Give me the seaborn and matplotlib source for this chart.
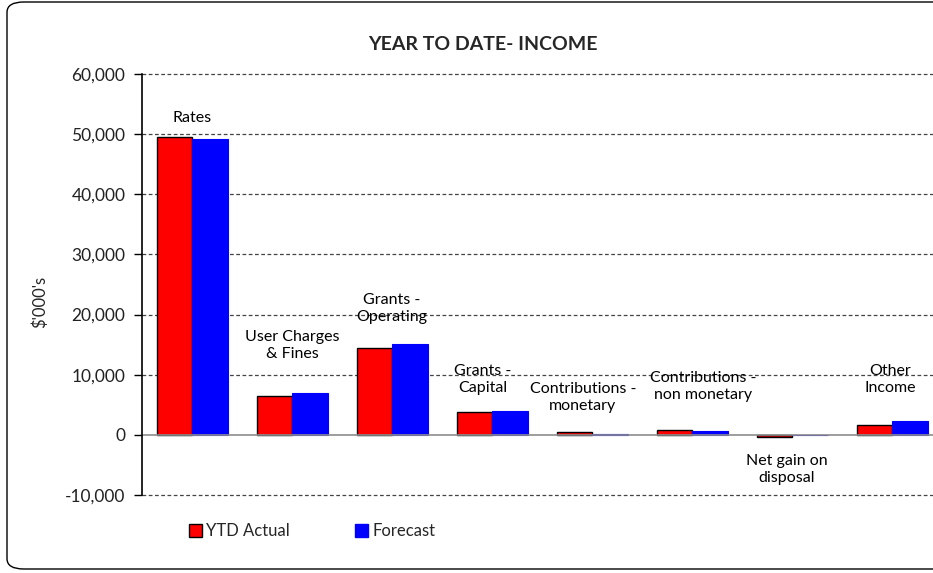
import matplotlib
matplotlib.use("Agg")
import matplotlib.pyplot as plt
from matplotlib.patches import FancyBboxPatch, Patch
import pandas as pd
import seaborn as sns

categories = ["Rates", "User Charges\n& Fines", "Grants -\nOperating", "Grants -\nCapital",
              "Contributions -\nmonetary", "Contributions -\nnon monetary",
              "Net gain on\ndisposal", "Other\nIncome"]
ytd_actual = [49450, 6400, 14450, 3750, 450, 830, -330, 1660]
forecast = [49270, 7000, 15100, 4000, 200, 660, -100, 2300]
series_names = ["YTD Actual", "Forecast"]
y_ticks = [-10000, 0, 10000, 20000, 30000, 40000, 50000, 60000]

# category label anchor points (x offset from group centre, y in $'000)
label_dx = [0.0, 0.0, 0.0, -0.09, -0.09, 0.11, -0.05, -0.02]
label_y = [52700, 14850, 21000, 9200, 6200, 8000, -5800, 9200]

df = pd.DataFrame({
    "category": categories * 2,
    "series": [series_names[0]] * len(categories) + [series_names[1]] * len(categories),
    "value": ytd_actual + forecast,
})

sns.set_theme(style="white")
plt.rcParams["font.family"] = ["Lato", "DejaVu Sans"]

W, H = 933, 573
fig = plt.figure(figsize=(W / 100, H / 100), dpi=100)

# rounded chart-area frame
frame = FancyBboxPatch((7 / W, 4 / H), 945 / W, 567 / H,
                       boxstyle="round,pad=0,rounding_size=0.018",
                       transform=fig.transFigure, facecolor="none",
                       edgecolor="black", linewidth=1.0, clip_on=False)
fig.patches.append(frame)

ax = fig.add_axes([142 / W, 1 - 495 / H, 800 / W, (495 - 74) / H])
sns.barplot(data=df, x="category", y="value", hue="series", order=categories,
            hue_order=series_names, palette=["#FF0000", "#0000FF"],
            width=0.71, dodge=True, gap=0, ax=ax, legend=False,
            saturation=1, linewidth=0)

for bar in ax.containers[0]:
    bar.set_edgecolor("black")
    bar.set_linewidth(1.0)
for bar in ax.containers[1]:
    bar.set_edgecolor("#0000FF")
    bar.set_linewidth(0.8)

ax.set_xlim(-0.5, len(categories) - 0.5)
ax.set_ylim(-10000, 60000)
ax.set_yticks(y_ticks)
ax.set_yticklabels([f"{v:,}" for v in y_ticks], fontsize=12.5)
ax.set_xticks([])
ax.set_xlabel("")
ax.set_ylabel("")

for v in y_ticks:
    if v != 0:
        ax.axhline(v, color="#444444", linestyle=(0, (3, 2)), linewidth=0.9,
                   zorder=0, clip_on=False)
ax.axhline(0, color="#8c8c8c", linewidth=1.2, zorder=3)

for s in ["top", "right", "bottom"]:
    ax.spines[s].set_visible(False)
ax.spines["left"].set_color("black")
ax.spines["left"].set_linewidth(1.2)
ax.spines["left"].set_zorder(4)
ax.tick_params(axis="y", which="major", direction="out", length=6, width=1,
               color="black", left=True, pad=6, labelcolor="#222222")

for i, name in enumerate(categories):
    ax.text(i + label_dx[i], label_y[i], name, ha="center", va="center",
            fontsize=11.5, linespacing=1.25, color="black")

fig.text(40 / W, 1 - 302 / H, "$'000's", rotation=90, ha="center", va="center",
         fontsize=12)
fig.text(483 / W, 1 - 45 / H, "YEAR TO DATE- INCOME", ha="center", va="center",
         fontsize=14, fontweight="bold")

handles = [Patch(facecolor="#FF0000", edgecolor="black", linewidth=1.0),
           Patch(facecolor="#0000FF", edgecolor="#0000FF")]
fig.legend(handles, series_names, loc="center left",
           bbox_to_anchor=(189 / W, 1 - 531 / H), ncol=2, frameon=False,
           fontsize=12, handlelength=0.75, handleheight=0.8, handletextpad=0.3,
           columnspacing=3.9, borderaxespad=0, borderpad=0)

fig.savefig("out.png", dpi=100)
